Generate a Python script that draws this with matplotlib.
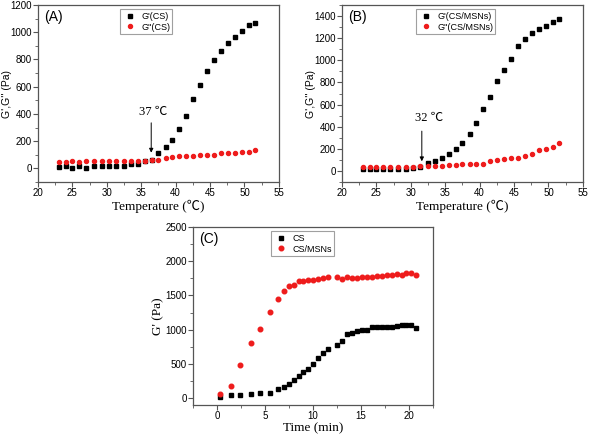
import matplotlib
matplotlib.use('Agg')
import matplotlib.pyplot as plt
from matplotlib.ticker import MultipleLocator

plt.rcParams['font.family'] = ['Liberation Sans', 'DejaVu Sans']
serif = ['Liberation Serif', 'Noto Sans CJK SC', 'DejaVu Serif']

# (A) CS temperature sweep
temp = [23, 24, 25, 26, 27, 28.2, 29.3, 30.3, 31.4, 32.5, 33.5, 34.5, 35.5, 36.5, 37.5,
        38.6, 39.5, 40.5, 41.5, 42.5, 43.5, 44.5, 45.6, 46.6, 47.6, 48.6, 49.6, 50.6, 51.6]
g1_cs = [8, 15, 2, 20, 5, 17, 17, 17, 17, 17, 29, 34, 51, 62, 113,
         159, 206, 292, 385, 507, 613, 716, 797, 865, 919, 968, 1010, 1054, 1071]
g2_cs = [49, 50, 52, 50, 51, 54, 55, 52, 51, 54, 56, 56, 58, 61, 64,
         74, 81, 88, 91, 93, 96, 98, 100, 110, 116, 115, 119, 118, 135]

# (B) CS/MSNs temperature sweep
g1_msn = [15, 18, 18, 18, 18, 18, 18, 27, 40, 72, 93, 117, 154, 202, 256,
          334, 437, 557, 672, 810, 913, 1012, 1130, 1190, 1247, 1280, 1307, 1349, 1377]
g2_msn = [38, 40, 40, 38, 38, 40, 40, 40, 42, 48, 45, 48, 54, 57, 63,
          66, 63, 66, 87, 102, 111, 120, 114, 132, 157, 187, 199, 217, 256]

# (C) time sweep at fixed temperature
time_min = [0.34, 1.44, 2.44, 3.54, 4.5, 5.5, 6.39, 6.98, 7.46, 7.97, 8.49, 9.0, 9.52,
            10.03, 10.55, 11.07, 11.58, 12.54, 13.02, 13.54, 14.05, 14.57, 15.12,
            15.64, 16.15, 16.67, 17.18, 17.73, 18.21, 18.73, 19.24, 19.69, 20.17, 20.72]
gt_cs = [20, 44, 49, 64, 73, 73, 127, 166, 210, 269, 323, 382, 421,
         499, 587, 665, 724, 783, 841, 939, 959, 978, 993,
         998, 1042, 1042, 1042, 1037, 1042, 1057, 1066, 1062, 1062, 1032]
gt_msn = [54, 171, 480, 802, 1008, 1257, 1443, 1570, 1644, 1658, 1707, 1707, 1722,
          1731, 1746, 1756, 1771, 1766, 1741, 1766, 1751, 1761, 1771,
          1776, 1771, 1781, 1781, 1805, 1805, 1810, 1805, 1825, 1835, 1800]

fig = plt.figure(figsize=(5.89, 4.37), dpi=100)
axA = fig.add_axes([0.0645, 0.5835, 0.409, 0.405])
axB = fig.add_axes([0.5806, 0.5835, 0.409, 0.405])
axC = fig.add_axes([0.3277, 0.0732, 0.4075, 0.4073])


def style(ax):
    for s in ax.spines.values():
        s.set_color('#555555')
        s.set_linewidth(0.9)
    ax.tick_params(which='major', direction='out', length=3.5, width=0.8,
                   labelsize=7, color='#555555', pad=1)
    ax.tick_params(which='minor', direction='out', length=2, width=0.6, color='#555555')


def legend(ax, x):
    lg = ax.legend(loc='upper left', bbox_to_anchor=(x, 0.975), fontsize=6.5,
                   frameon=True, fancybox=False, handlelength=1.8, handletextpad=0.3,
                   borderpad=0.25, labelspacing=0.2, borderaxespad=0)
    lg.get_frame().set_edgecolor('#888888')
    lg.get_frame().set_linewidth(0.8)


# panel A
axA.plot(temp, g1_cs, 's', color='black', ms=2.4, label="G'(CS)")
axA.plot(temp, g2_cs, 'o', color='#ee1c1c', ms=2.9, label="G''(CS)")
axA.set_xlim(20, 55)
axA.set_ylim(-100, 1200)
axA.xaxis.set_major_locator(MultipleLocator(5))
axA.xaxis.set_minor_locator(MultipleLocator(2.5))
axA.yaxis.set_major_locator(MultipleLocator(200))
axA.yaxis.set_minor_locator(MultipleLocator(100))
axA.set_xlabel('Temperature (℃)', family=serif, fontsize=9.5, labelpad=1)
axA.set_ylabel("G',G'' (Pa)", fontsize=7.5)
axA.yaxis.set_label_coords(-0.108, 0.5)
axA.text(0.025, 0.97, '(A)', transform=axA.transAxes, fontsize=10, va='top')
axA.annotate('', xy=(36.45, 95), xytext=(36.45, 355),
             arrowprops=dict(arrowstyle='-|>', color='black', lw=0.7, mutation_scale=6))
axA.text(36.7, 415, '37 ℃', family=serif, fontsize=9, ha='center', va='center')
legend(axA, 0.34)
style(axA)

# panel B
axB.plot(temp, g1_msn, 's', color='black', ms=2.4, label="G'(CS/MSNs)")
axB.plot(temp, g2_msn, 'o', color='#ee1c1c', ms=2.9, label="G''(CS/MSNs)")
axB.set_xlim(20, 55)
axB.set_ylim(-100, 1500)
axB.xaxis.set_major_locator(MultipleLocator(5))
axB.xaxis.set_minor_locator(MultipleLocator(2.5))
axB.yaxis.set_major_locator(MultipleLocator(200))
axB.yaxis.set_minor_locator(MultipleLocator(100))
axB.set_xlabel('Temperature (℃)', family=serif, fontsize=9.5, labelpad=1)
axB.set_ylabel("G',G'' (Pa)", fontsize=7.5)
axB.yaxis.set_label_coords(-0.108, 0.5)
axB.text(0.025, 0.97, '(B)', transform=axB.transAxes, fontsize=10, va='top')
axB.annotate('', xy=(31.6, 62), xytext=(31.6, 385),
             arrowprops=dict(arrowstyle='-|>', color='black', lw=0.7, mutation_scale=6))
axB.text(32.6, 480, '32 ℃', family=serif, fontsize=9, ha='center', va='center')
legend(axB, 0.307)
style(axB)

# panel C
axC.plot(time_min, gt_cs, 's', color='black', ms=2.8, label='CS')
axC.plot(time_min, gt_msn, 'o', color='#ee1c1c', ms=3.3, label='CS/MSNs')
axC.set_xlim(-2.5, 22.5)
axC.set_ylim(-100, 2500)
axC.xaxis.set_major_locator(MultipleLocator(5))
axC.xaxis.set_minor_locator(MultipleLocator(2.5))
axC.yaxis.set_major_locator(MultipleLocator(500))
axC.yaxis.set_minor_locator(MultipleLocator(250))
axC.set_xlabel('Time (min)', family=serif, fontsize=9.5, labelpad=1)
axC.set_ylabel("G' (Pa)", family=serif, fontsize=9.5, labelpad=1)
axC.text(0.025, 0.97, '(C)', transform=axC.transAxes, fontsize=10, va='top')
legend(axC, 0.325)
style(axC)

fig.savefig('out.png', dpi=100)
